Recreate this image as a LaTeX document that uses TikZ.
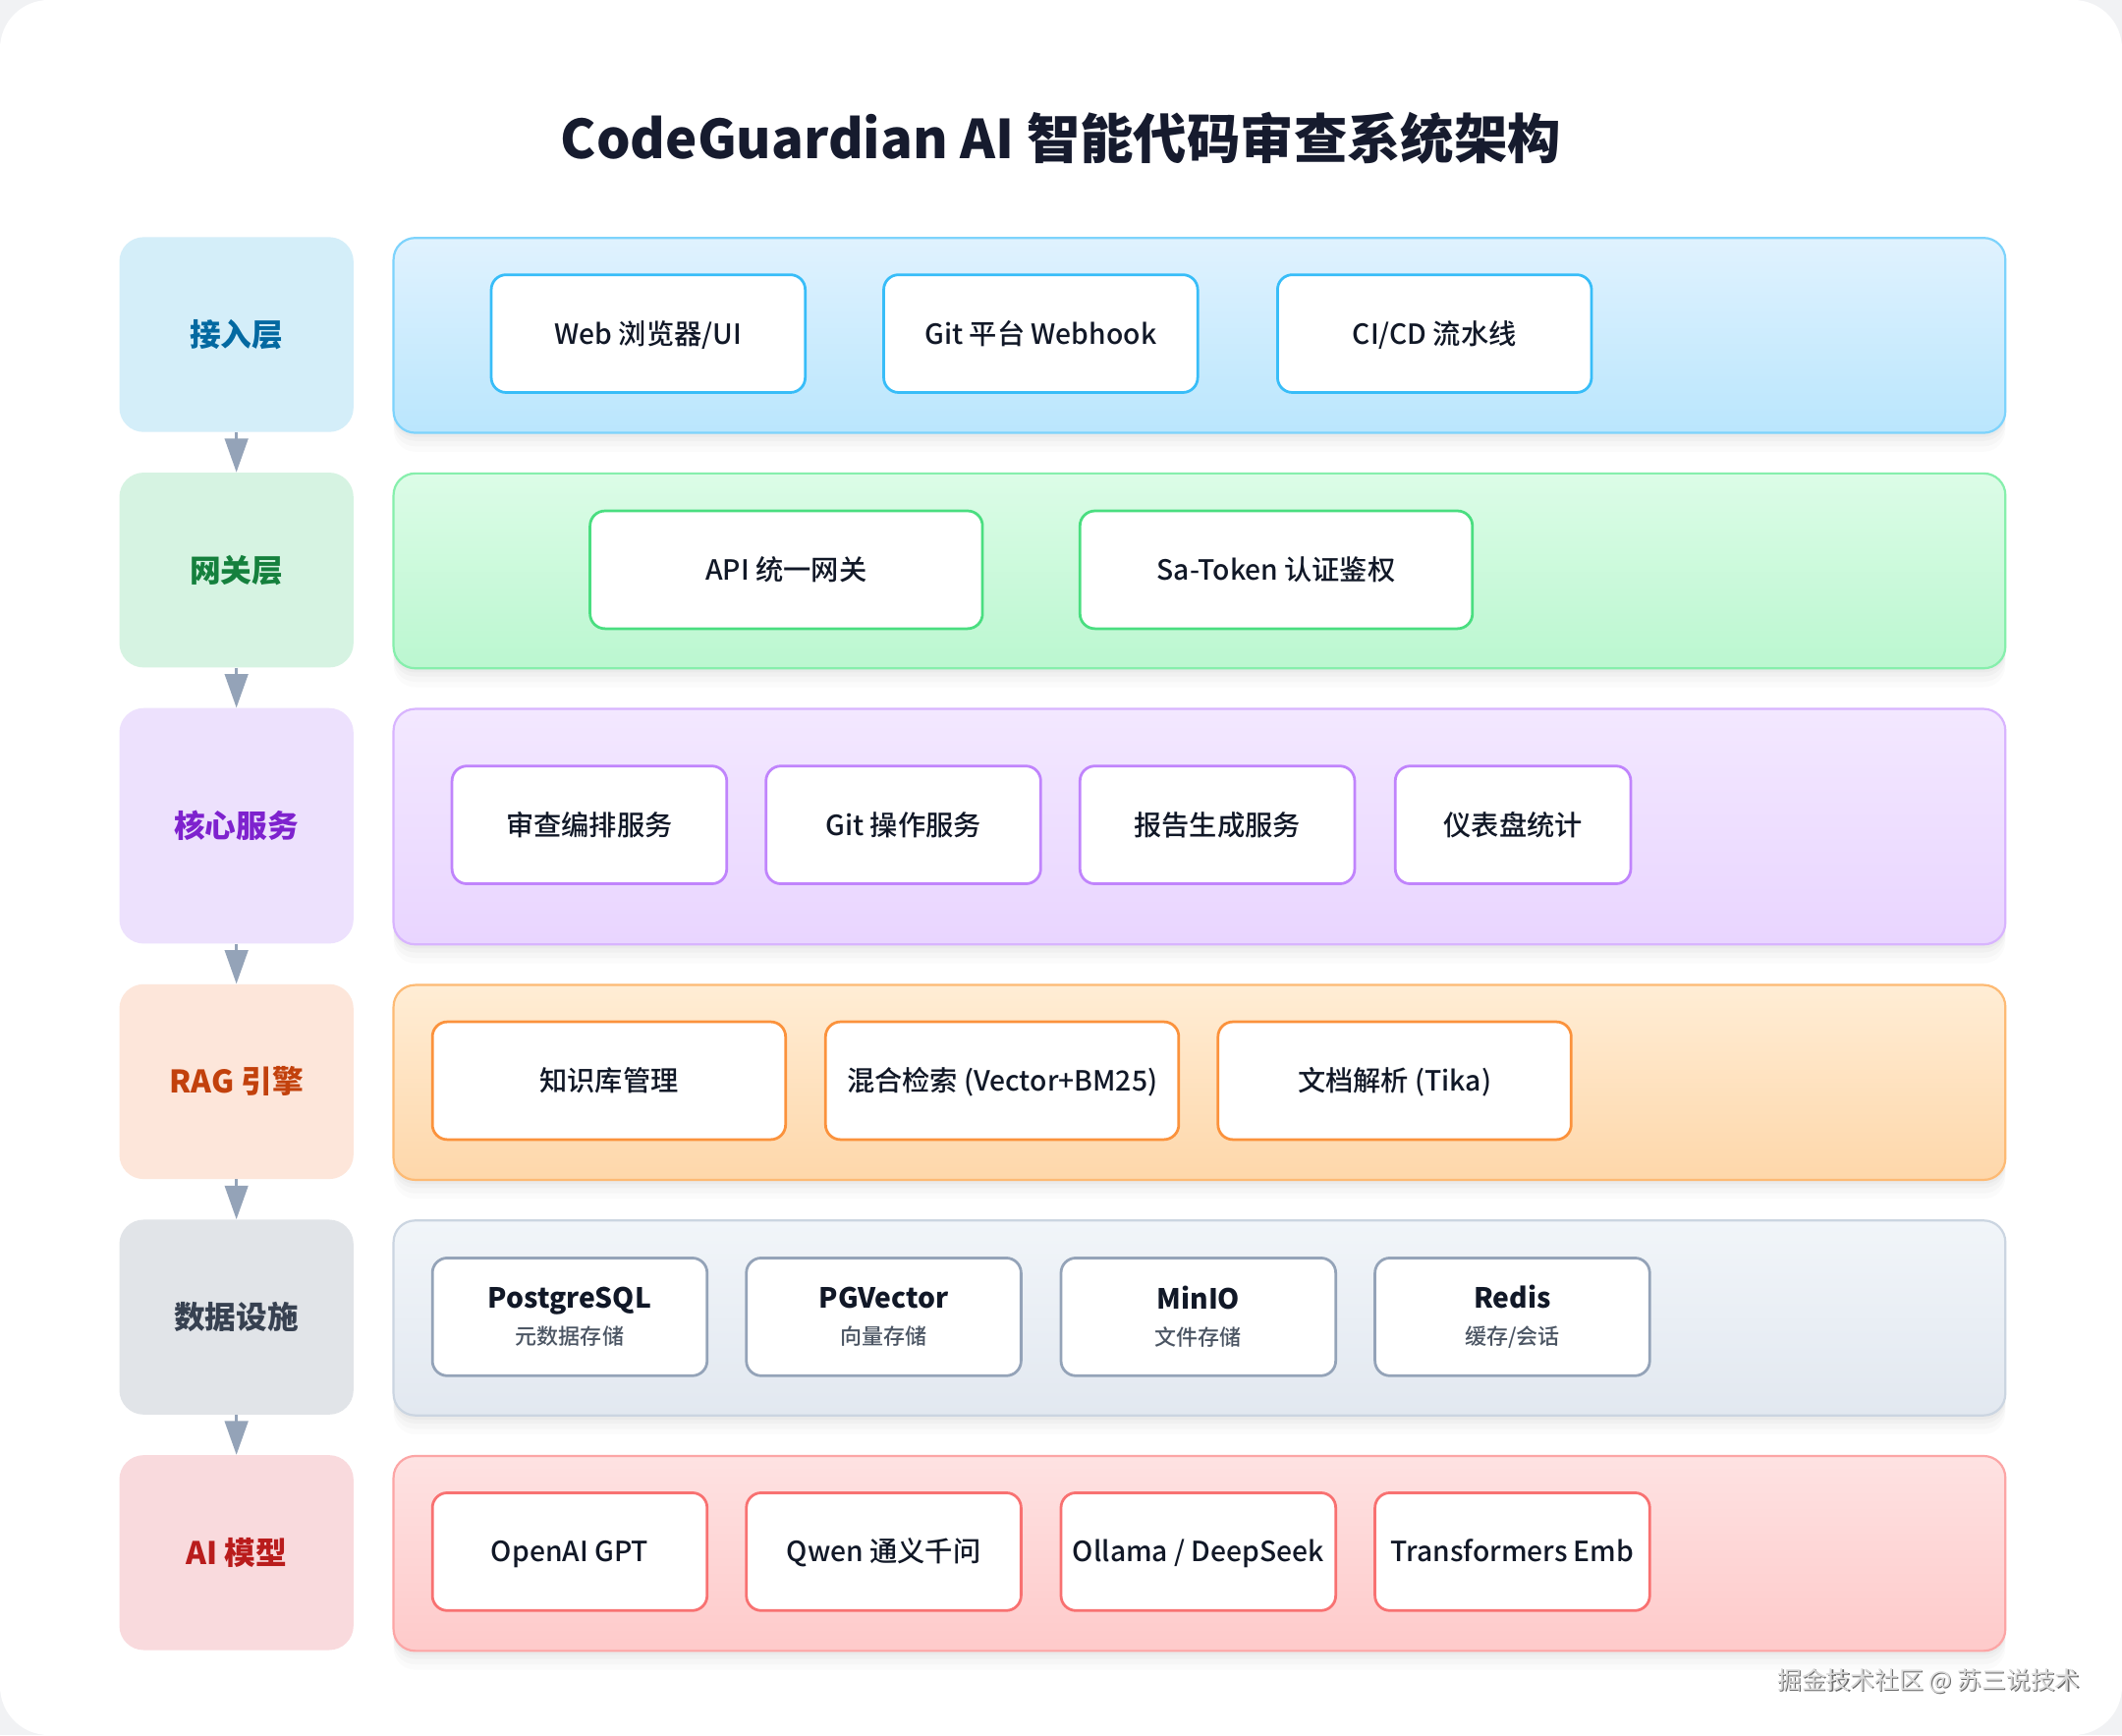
\documentclass[tikz,border=0pt]{standalone}
\usepackage{fontspec}
\setmainfont{Noto Sans CJK SC}
\newfontfamily\medfont{Noto Sans CJK SC Medium}
\usetikzlibrary{arrows.meta}
\definecolor{pagebg}{HTML}{F1F2F4}
\definecolor{titlecol}{HTML}{161B2E}
\definecolor{txtcol}{HTML}{111827}
\definecolor{subcol}{HTML}{4B5563}
\definecolor{arrowcol}{HTML}{94A3B8}
% row 1 sky
\definecolor{skyL}{HTML}{D4EEF9}\definecolor{skyT}{HTML}{0369A1}
\definecolor{skyA}{HTML}{E0F2FE}\definecolor{skyB}{HTML}{BAE6FD}
\definecolor{skyE}{HTML}{7DD3FC}\definecolor{skyI}{HTML}{38BDF8}
% row 2 green
\definecolor{grnL}{HTML}{D6F3E2}\definecolor{grnT}{HTML}{15803D}
\definecolor{grnA}{HTML}{DCFCE7}\definecolor{grnB}{HTML}{BBF7D0}
\definecolor{grnE}{HTML}{86EFAC}\definecolor{grnI}{HTML}{4ADE80}
% row 3 purple
\definecolor{purL}{HTML}{EDE1FD}\definecolor{purT}{HTML}{7E22CE}
\definecolor{purA}{HTML}{F3E8FF}\definecolor{purB}{HTML}{E9D5FF}
\definecolor{purE}{HTML}{D8B4FE}\definecolor{purI}{HTML}{C084FC}
% row 4 orange
\definecolor{orgL}{HTML}{FDE6DA}\definecolor{orgT}{HTML}{C2410C}
\definecolor{orgA}{HTML}{FFEDD5}\definecolor{orgB}{HTML}{FED7AA}
\definecolor{orgE}{HTML}{FDBA74}\definecolor{orgI}{HTML}{FB923C}
% row 5 slate
\definecolor{slaL}{HTML}{E1E4E8}\definecolor{slaT}{HTML}{374151}
\definecolor{slaA}{HTML}{F1F5F9}\definecolor{slaB}{HTML}{E2E8F0}
\definecolor{slaE}{HTML}{CBD5E1}\definecolor{slaI}{HTML}{94A3B8}
% row 6 red
\definecolor{redL}{HTML}{F9DADD}\definecolor{redT}{HTML}{B91C1C}
\definecolor{redA}{HTML}{FEE2E2}\definecolor{redB}{HTML}{FECACA}
\definecolor{redE}{HTML}{FCA5A5}\definecolor{redI}{HTML}{F87171}
\begin{document}
\begin{tikzpicture}[x=1pt,y=-1pt,
  labelbox/.style={fill=#1L, rounded corners=18pt, minimum width=173pt, inner sep=0pt,
    text=#1T, font=\fontsize{23}{27}\selectfont\bfseries, anchor=north west},
  softshadow/.style={
    preaction={fill=black, fill opacity=0.025, draw=none, transform canvas={yshift=-3pt}},
    preaction={fill=black, fill opacity=0.025, draw=none, transform canvas={yshift=-6pt}},
    preaction={fill=black, fill opacity=0.02, draw=none, transform canvas={yshift=-10pt}},
    preaction={fill=black, fill opacity=0.015, draw=none, transform canvas={yshift=-14pt}}},
  panel/.style={softshadow, top color=#1A, bottom color=#1B, draw=#1E, line width=1.6pt,
    rounded corners=16pt, minimum width=1191pt, inner sep=0pt, anchor=north west},
  inbox/.style={fill=white, draw=#1I, line width=2pt, rounded corners=11pt,
    minimum height=87pt, inner sep=0pt, text=txtcol, align=center,
    font=\fontsize{20.5}{24}\selectfont\medfont},
  one/.style={text height=19pt, text depth=3.6pt},
  flow/.style={draw=arrowcol, line width=2.4pt, -{Triangle[width=17pt,length=25pt]}}
]
\fill[pagebg] (0,0) rectangle (1568,1282);
\fill[white, rounded corners=36pt] (0,0) rectangle (1568,1282);
\useasboundingbox (0,0) rectangle (1568,1282);

% title
\node[text=titlecol, font=\fontsize{39.5}{46}\selectfont\bfseries] (title) at (784,102) {CodeGuardian AI 智能代码审查系统架构};

% panels
\node[panel=sky, minimum height=144pt] (p1) at (290,175) {};
\node[panel=grn, minimum height=144pt] (p2) at (290,349) {};
\node[panel=pur, minimum height=174pt] (p3) at (290,523) {};
\node[panel=org, minimum height=144pt] (p4) at (290,727) {};
\node[panel=sla, minimum height=144pt] (p5) at (290,901) {};
\node[panel=red, minimum height=144pt] (p6) at (290,1075) {};

% layer labels
\node[labelbox=sky, minimum height=144pt] (l1) at (88,175) {接入层};
\node[labelbox=grn, minimum height=144pt] (l2) at (88,349) {网关层};
\node[labelbox=pur, minimum height=174pt] (l3) at (88,523) {核心服务};
\node[labelbox=org, minimum height=144pt] (l4) at (88,727) {RAG 引擎};
\node[labelbox=sla, minimum height=144pt] (l5) at (88,901) {数据设施};
\node[labelbox=red, minimum height=144pt] (l6) at (88,1075) {AI 模型};

% arrows between layers
\draw[flow] (l1.south) -- (l2.north);
\draw[flow] (l2.south) -- (l3.north);
\draw[flow] (l3.south) -- (l4.north);
\draw[flow] (l4.south) -- (l5.north);
\draw[flow] (l5.south) -- (l6.north);

% row 1
\node[inbox=sky, one, minimum width=232pt] (a1) at (479,246.5) {Web 浏览器/UI};
\node[inbox=sky, one, minimum width=232pt] (a2) at (769,246.5) {Git 平台 Webhook};
\node[inbox=sky, one, minimum width=232pt] (a3) at (1060,246.5) {CI/CD 流水线};
% row 2
\node[inbox=grn, one, minimum width=290pt] (b1) at (581,421) {API 统一网关};
\node[inbox=grn, one, minimum width=290pt] (b2) at (943,421) {Sa-Token 认证鉴权};
% row 3
\node[inbox=pur, one, minimum width=203pt] (c1) at (435.5,609.5) {审查编排服务};
\node[inbox=pur, one, minimum width=203pt] (c2) at (667.5,609.5) {Git 操作服务};
\node[inbox=pur, one, minimum width=203pt] (c3) at (899.5,609.5) {报告生成服务};
\node[inbox=pur, one, minimum width=174pt] (c4) at (1118,609.5) {仪表盘统计};
% row 4
\node[inbox=org, one, minimum width=261pt] (d1) at (450,798.5) {知识库管理};
\node[inbox=org, one, minimum width=261pt] (d2) at (740.5,798.5) {混合检索 (Vector+BM25)};
\node[inbox=org, one, minimum width=261pt] (d3) at (1030.5,798.5) {文档解析 (Tika)};
% row 5
\node[inbox=sla, minimum width=203pt] (e1) at (421,973) {{\bfseries PostgreSQL}\\[3pt]{\fontsize{16}{19}\selectfont\color{subcol}元数据存储}};
\node[inbox=sla, minimum width=203pt] (e2) at (653,973) {{\bfseries PGVector}\\[3pt]{\fontsize{16}{19}\selectfont\color{subcol}向量存储}};
\node[inbox=sla, minimum width=203pt] (e3) at (885.5,973) {{\bfseries MinIO}\\[3pt]{\fontsize{16}{19}\selectfont\color{subcol}文件存储}};
\node[inbox=sla, minimum width=203pt] (e4) at (1117.5,973) {{\bfseries Redis}\\[3pt]{\fontsize{16}{19}\selectfont\color{subcol}缓存/会话}};
% row 6
\node[inbox=red, one, minimum width=203pt] (f1) at (421,1146.5) {OpenAI GPT};
\node[inbox=red, one, minimum width=203pt] (f2) at (653,1146.5) {Qwen 通义千问};
\node[inbox=red, one, minimum width=203pt] (f3) at (885.5,1146.5) {Ollama / DeepSeek};
\node[inbox=red, one, minimum width=203pt] (f4) at (1117.5,1146.5) {Transformers Emb};

% watermark
\node[text=gray!85!black, font=\fontsize{18}{22}\selectfont] (wmshadow) at (1425.8,1242.8) {掘金技术社区 @ 苏三说技术};
\node[text=gray!30, font=\fontsize{18}{22}\selectfont] (wm) at (1425,1242) {掘金技术社区 @ 苏三说技术};
\end{tikzpicture}
\end{document}
